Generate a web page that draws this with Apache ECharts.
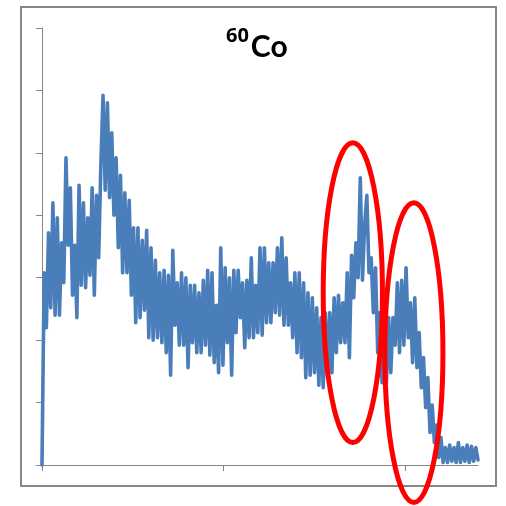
<!DOCTYPE html>
<html>
<head>
<meta charset="utf-8">
<script src="https://cdn.jsdelivr.net/npm/echarts@6/dist/echarts.min.js"></script>
<style>
html,body{margin:0;padding:0;background:#fff;}
#c{width:506px;height:506px;}
</style>
</head>
<body>
<div id="c"></div>
<script>
// Channel step between consecutive samples
const channelStep = 12;
// Counts per sample
const counts = [
  0,154,110,186,126,210,120,198,120,178,
  146,246,176,222,136,176,118,224,144,210,
  142,198,152,222,136,216,166,240,296,220,
  290,214,266,200,246,174,232,154,218,154,
  212,136,190,114,190,118,180,124,188,102,
  174,100,164,102,154,98,156,90,152,72,
  172,112,146,96,154,96,150,78,144,98,
  144,90,138,90,148,96,156,88,154,82,
  128,74,174,80,158,98,150,72,156,106,
  156,118,146,94,148,102,166,102,144,106,
  174,104,174,114,162,114,162,122,174,120,
  182,112,166,112,146,102,154,90,154,86,
  146,70,138,72,134,74,126,64,118,62,
  122,72,122,74,134,90,136,98,130,98,
  154,86,168,134,178,150,230,148,192,216,
  154,166,122,158,90,122,66,112,66,118,
  74,118,96,146,90,148,96,158,102,130,
  82,134,78,106,62,86,46,70,26,48,
  18,32,6,22,2,14,2,16,3,14,
  2,18,2,14,3,16,2,15,3,14,
  4
];
const xTicks = [0, 1000, 2000];
const yMax = 350, yInterval = 50;
const xMax = 2400, xInterval = 1000;
// Annotation ellipses in data coordinates: [centerChannel, centerCount, radiusChannels, radiusCounts]
const ellipses = [
  [1711, 138, 163, 120],
  [2047, 90, 160, 120]
];

const chart = echarts.init(document.getElementById('c'), null, {renderer:'canvas'});
const seriesData = counts.map((v, i) => [i * channelStep, v]);
const axisColor = '#868686';
chart.setOption({
  animation: false,
  backgroundColor: '#fff',
  title: {
    text: '{sup|60}{main|Co}',
    left: 226, top: 26, padding: 0,
    textStyle: {
      rich: {
        sup: {fontSize: 20, fontWeight: 'bold', fontFamily: 'Open Sans', color: '#000', lineHeight: 20, verticalAlign: 'top', padding: [0, 2, 0, 0]},
        main: {fontSize: 30, fontWeight: 'bold', fontFamily: 'Lato', color: '#000', lineHeight: 36, verticalAlign: 'bottom'}
      }
    }
  },
  grid: {left: 42, top: 28, right: 28, bottom: 41, containLabel: false},
  xAxis: {
    type: 'value', min: 0, max: xMax, interval: xInterval,
    axisLine: {show: true, lineStyle: {color: axisColor, width: 1}},
    axisTick: {show: true, length: 6, inside: false, customValues: xTicks, lineStyle: {color: axisColor}},
    axisLabel: {show: false},
    splitLine: {show: false}
  },
  yAxis: {
    type: 'value', min: 0, max: yMax, interval: yInterval,
    axisLine: {show: true, lineStyle: {color: axisColor, width: 1}},
    axisTick: {show: true, length: 6, inside: false, lineStyle: {color: axisColor}},
    axisLabel: {show: false},
    splitLine: {show: false}
  },
  series: [{
    type: 'line',
    data: seriesData,
    showSymbol: false,
    symbol: 'none',
    clip: false,
    lineStyle: {color: '#4a7ebb', width: 3.6, join: 'round', cap: 'round'}
  }]
});

const graphics = [{
  type: 'rect',
  shape: {x: 21, y: 7, width: 475, height: 479},
  style: {fill: null, stroke: '#878787', lineWidth: 2},
  silent: true, z: 0
}];
ellipses.forEach(e => {
  const c = chart.convertToPixel({gridIndex: 0}, [e[0], e[1]]);
  const p = chart.convertToPixel({gridIndex: 0}, [e[0] + e[2], e[1] + e[3]]);
  graphics.push({
    type: 'ellipse',
    shape: {cx: c[0], cy: c[1], rx: Math.abs(p[0] - c[0]), ry: Math.abs(c[1] - p[1])},
    style: {fill: null, stroke: '#ff0000', lineWidth: 5},
    silent: true, z: 100
  });
});
chart.setOption({graphic: graphics});
</script>
</body>
</html>
